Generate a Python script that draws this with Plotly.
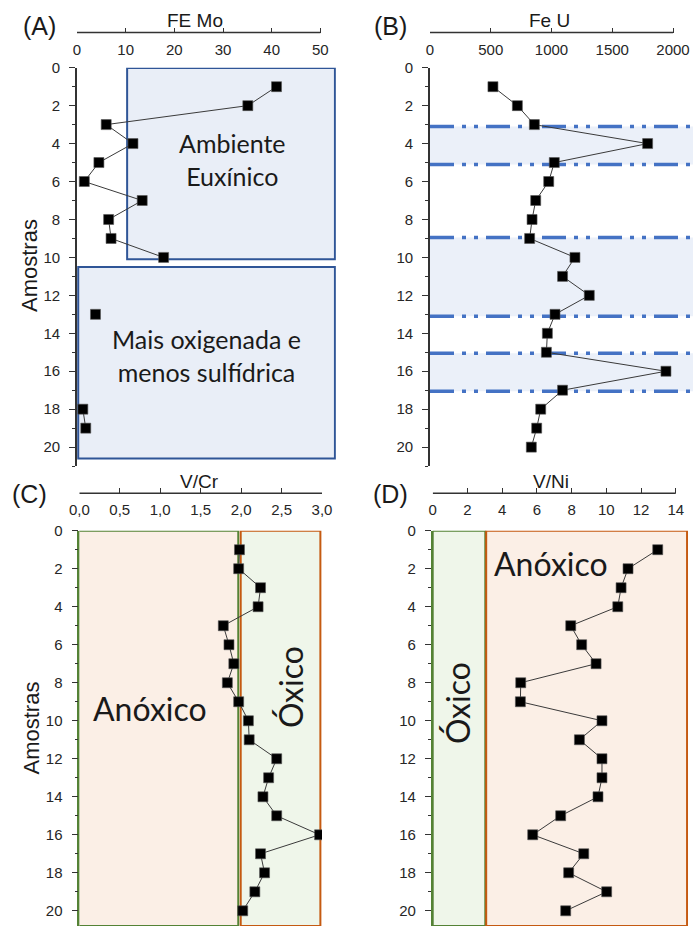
import plotly.graph_objects as go

W, H = 693, 926

# ---------------- data ----------------
samples = list(range(1, 21))
fe_mo = [41.0, 35.1, 6.0, 11.5, 4.5, 1.5, 13.4, 6.5, 7.0, 17.8,
         None, None, 3.8, None, None, None, None, 1.2, 1.8, None]
fe_u = [518, 719, 859, 1791, 1023, 977, 870, 840, 820, 1193,
        1091, 1311, 1029, 966, 958, 1942, 1091, 911, 878, 834]
v_cr = [1.98, 1.97, 2.24, 2.21, 1.78, 1.85, 1.91, 1.83, 1.97, 2.09,
        2.10, 2.44, 2.34, 2.27, 2.44, 2.97, 2.24, 2.29, 2.17, 2.02]
v_ni = [12.96, 11.25, 10.85, 10.66, 7.95, 8.58, 9.41, 5.07, 5.05, 9.75,
        8.45, 9.75, 9.75, 9.52, 7.37, 5.76, 8.70, 7.83, 10.02, 7.66]

y_ticks = list(range(0, 21, 2))
femo_ticks = [0, 10, 20, 30, 40, 50]
feu_ticks = [0, 500, 1000, 1500, 2000]
vcr_ticks = [0.0, 0.5, 1.0, 1.5, 2.0, 2.5, 3.0]
vcr_labels = ["0,0", "0,5", "1,0", "1,5", "2,0", "2,5", "3,0"]
vni_ticks = [0, 2, 4, 6, 8, 10, 12, 14]

# B shaded bands (sample intervals)
feu_bands = [(3.1, 5.1), (8.95, 13.1), (15.05, 17.05)]

TICK_FONT = dict(family="Liberation Sans, Arial", size=15, color="#262626")
AX = "#333333"


def px(x):
    return x / W


def py(y):
    return 1 - y / H


fig = go.Figure()

marker = dict(symbol="square", size=10, color="black", line=dict(color="#555555", width=0.6))
line = dict(color="#3a3a3a", width=1)
for vals, xa, ya in [(fe_mo, "x", "y"), (fe_u, "x2", "y2"), (v_cr, "x3", "y3"), (v_ni, "x4", "y4")]:
    fig.add_trace(go.Scatter(x=vals, y=samples, mode="lines+markers", xaxis=xa, yaxis=ya,
                             line=line, marker=marker, connectgaps=False, showlegend=False,
                             hoverinfo="skip"))


def xaxis(dom, rng, ypix, tickvals, ticktext=None):
    # bottom-side axis placed above the plot: ticks "inside" point up, labels below the line
    d = dict(domain=dom, range=rng, side="bottom", anchor="free", position=py(ypix),
             showline=False, ticks="inside", ticklen=5, tickwidth=1.3, tickcolor=AX,
             tickvals=tickvals, tickfont=TICK_FONT,
             showgrid=False, zeroline=False, fixedrange=True, ticklabelstandoff=6)
    if ticktext is not None:
        d["ticktext"] = ticktext
    return d


def yaxis(dom, rng, anchor, linecolor=AX):
    return dict(domain=dom, range=rng, anchor=anchor, showline=True, linecolor=linecolor,
                linewidth=1.6, ticks="outside", ticklen=6, tickwidth=1.3, tickcolor=AX,
                tickvals=y_ticks, tickfont=TICK_FONT, showgrid=False, zeroline=False,
                fixedrange=True, ticklabelstandoff=6,
                minor=dict(tickmode="linear", tick0=0, dtick=1, ticks="outside",
                           ticklen=3, tickcolor=AX, tickwidth=1.2, showgrid=False))


top_dom = [py(466.1), py(67.7)]
bot_dom = [0, py(530.7)]

fig.update_layout(
    width=W, height=H, margin=dict(l=0, r=0, t=0, b=0, autoexpand=False),
    paper_bgcolor="white", plot_bgcolor="white",
    xaxis=xaxis([px(77), px(335.9)], [0, 53.2], 32.5, femo_ticks),
    yaxis=yaxis(top_dom, [21, 0], "x"),
    xaxis2=xaxis([px(430), 1], [0, 2164.6], 32.5, feu_ticks),
    yaxis2=yaxis(top_dom, [21, 0], "x2"),
    xaxis3=xaxis([px(79.3), px(322)], [0, 3.0], 493.3, vcr_ticks, vcr_labels),
    yaxis3=yaxis(bot_dom, [20.8, 0], "x3", linecolor="#548235"),
    xaxis4=xaxis([px(432.7), px(688.1)], [0, 14.71], 493.3, vni_ticks),
    yaxis4=yaxis(bot_dom, [20.8, 0], "x4", linecolor="#548235"),
)

shapes = []
# top axis lines ending at last tick
for xr, x1, ypix in [("x", 50, 32.5), ("x2", 2000, 32.5), ("x3", 3.0, 493.3), ("x4", 14, 493.3)]:
    shapes.append(dict(type="line", xref=xr, yref="paper", x0=0, x1=x1, y0=py(ypix), y1=py(ypix),
                       line=dict(color=AX, width=1.6), layer="above"))

# Panel A boxes
BLUE_FILL = "#E9EEF7"
BLUE_LINE = "#2F5597"
shapes.append(dict(type="rect", xref="x", yref="y", x0=10.3, x1=53.0, y0=0.02, y1=10.1,
                   fillcolor=BLUE_FILL, line=dict(color=BLUE_LINE, width=2), layer="below"))
shapes.append(dict(type="rect", xref="x", yref="y", x0=0.25, x1=53.0, y0=10.5, y1=20.6,
                   fillcolor=BLUE_FILL, line=dict(color=BLUE_LINE, width=2), layer="below"))

# Panel B bands
for a, b in feu_bands:
    shapes.append(dict(type="rect", xref="x2 domain", yref="y2", x0=0, x1=1, y0=a, y1=b,
                       fillcolor="#EBF0F9", line=dict(width=0), layer="below"))
    for yy in (a, b):
        shapes.append(dict(type="line", xref="x2 domain", yref="y2", x0=0, x1=1, y0=yy, y1=yy,
                           line=dict(color="#4472C4", width=3.5,
                                     dash="24px,8px,4px,8px,4px,8px"), layer="below"))

PEACH = "#FBEFE6"
LGREEN = "#EFF6EA"
GREEN = "#548235"
ORANGE = "#C55A11"
# Panel C
shapes.append(dict(type="rect", xref="x3", yref="y3", x0=-0.01, x1=1.965, y0=0, y1=20.8,
                   fillcolor=PEACH, line=dict(color=GREEN, width=2), layer="below"))
shapes.append(dict(type="rect", xref="x3", yref="y3", x0=1.995, x1=2.98, y0=0, y1=20.8,
                   fillcolor=LGREEN, line=dict(color=ORANGE, width=2), layer="below"))
# Panel D
shapes.append(dict(type="rect", xref="x4", yref="y4", x0=0, x1=3.03, y0=0, y1=20.8,
                   fillcolor=LGREEN, line=dict(color=GREEN, width=2), layer="below"))
shapes.append(dict(type="rect", xref="x4", yref="y4", x0=3.08, x1=14.65, y0=0, y1=20.8,
                   fillcolor=PEACH, line=dict(color=ORANGE, width=2), layer="below"))

fig.update_layout(shapes=shapes)

ann = []


def text(t, x, y, size, family="Liberation Sans, Arial", angle=0, color="#1a1a1a"):
    ann.append(dict(text=t, x=px(x), y=py(y), xref="paper", yref="paper", showarrow=False,
                    xanchor="center", yanchor="middle", textangle=angle,
                    font=dict(family=family, size=size, color=color)))


# panel labels
text("(A)", 39.5, 26, 25)
text("(B)", 391, 26, 25)
text("(C)", 29.5, 494, 25)
text("(D)", 391, 494, 25)
# axis titles
text("FE Mo", 195, 21, 19)
text("Fe U", 549, 21, 19)
text("V/Cr", 200, 482, 19)
text("V/Ni", 551, 482, 19)
text("Amostras", 29, 266, 22, angle=-90)
text("Amostras", 30.5, 728, 22, angle=-90)
# region labels
LBL = "Lato, Noto Sans"
text("Ambiente<br>Euxínico", 232, 159, 25, family=LBL)
text("Mais oxigenada e<br>menos sulfídrica", 206.5, 355, 25, family=LBL)
text("Anóxico", 150, 708, 32, family=LBL)
text("Óxico", 290, 687, 32, family=LBL, angle=-90)
text("Anóxico", 551, 563, 32, family=LBL)
text("Óxico", 457, 703, 32, family=LBL, angle=-90)

fig.update_layout(annotations=ann)

fig.write_html("out.html", config={"displayModeBar": False},
               post_script="document.body.style.margin='0';")
